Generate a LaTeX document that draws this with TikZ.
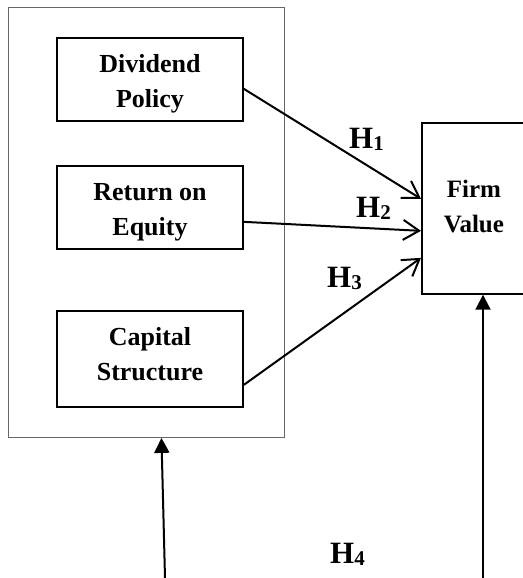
\documentclass[tikz,border=0pt]{standalone}
\usepackage{fontspec}
\setmainfont{Liberation Serif}
\usepackage{tikz}
\usetikzlibrary{arrows.meta}

\newcommand{\hyp}[1]{H\raisebox{-2pt}{\fontsize{21}{21}\selectfont #1}}

\tikzset{
   stage/.style={draw, line width=1.7pt, anchor=north, inner sep=0pt,
      text width=186pt, align=flush center, text height=35pt,
      font=\fontsize{26}{35}\selectfont\bfseries},
   hlabel/.style={anchor=base west, inner sep=0pt,
      font=\fontsize{31}{31}\selectfont\bfseries},
   link/.style={line width=2pt, -{Straight Barb[length=16pt, width=20pt]}},
   push/.style={line width=2pt, -{Triangle[length=15pt, width=15pt]}}
}

\begin{document}
\begin{tikzpicture}[x=1pt, y=-1pt]
      \useasboundingbox (0,0) rectangle (522,578);

      \node (grp) at (8,7) [anchor=north west, draw=black!60, line width=0.9pt,
         minimum width=276pt, minimum height=430pt, inner sep=0pt] {};
      \node (div) at (150,37) [stage, text depth=48pt] {Dividend\\Policy};
      \node (roe) at (150,165) [stage, text depth=48pt] {Return on\\Equity};
      \node (cap) at (150,310) [stage, text depth=61pt] {Capital\\Structure};
      \node (value) at (421,122) [anchor=north west, draw, line width=1.7pt,
         inner sep=0pt, text width=104pt, align=flush center, text height=75pt,
         text depth=96pt, font=\fontsize{25}{35}\selectfont\bfseries] {Firm\\Value};

      \draw [link] ([yshift=-9.5pt]div.east) -- ([yshift=9.5pt]value.west);
      \draw [link] ([yshift=-14.5pt]roe.east) -- ([yshift=-22.5pt]value.west);
      \draw [link] ([yshift=-26pt]cap.east) -- ([yshift=-49.5pt]value.west);

      \coordinate (lfoot) at (165,578);
      \coordinate (rfoot) at (483,578);
      \draw [push] (lfoot) -- ([xshift=15pt]grp.south);
      \draw [push] (rfoot) -- (rfoot |- value.south);

      \node (h1) at (349,148) [hlabel] {\hyp{1}};
      \node (h2) at (356,217) [hlabel] {\hyp{2}};
      \node (h3) at (327,287) [hlabel] {\hyp{3}};
      \node (h4) at (330,563) [hlabel] {\hyp{4}};
   \end{tikzpicture}
\end{document}
